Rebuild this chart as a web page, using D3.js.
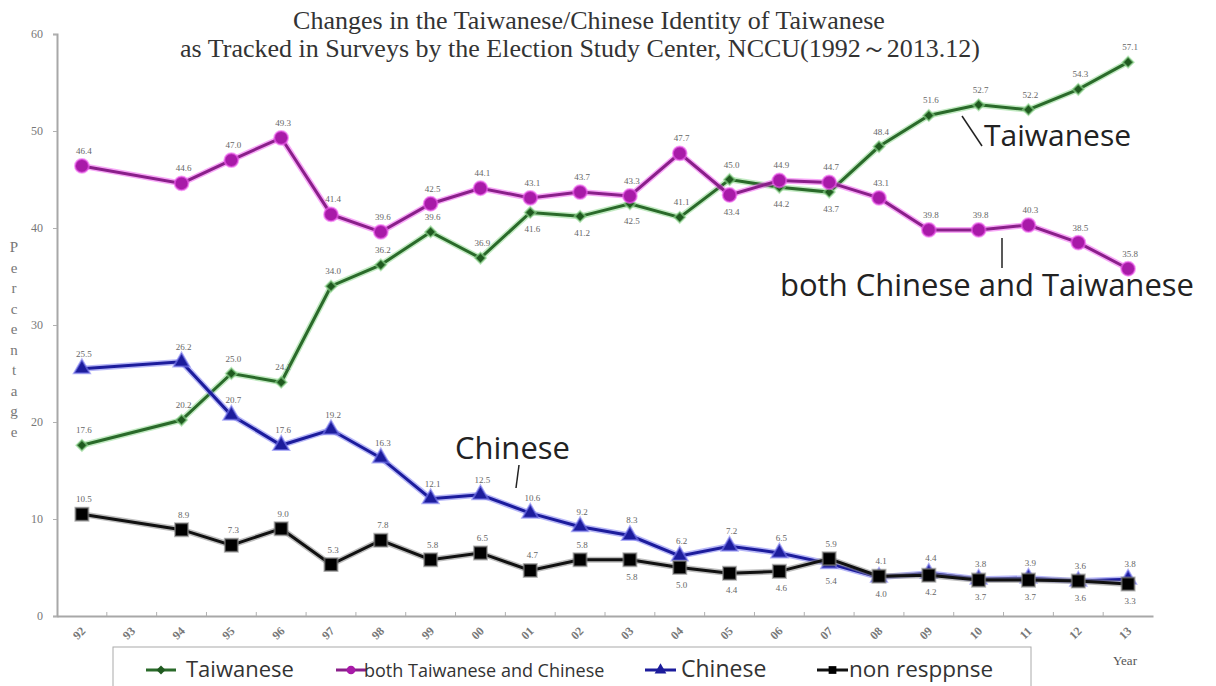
<!DOCTYPE html>
<html>
<head>
<meta charset="utf-8">
<script src="https://cdn.jsdelivr.net/npm/d3@7"></script>
<style>
	body { margin: 0; background: #fff; }
	svg { display: block; }
</style>
</head>
<body>
<svg id="chart" width="1216" height="686"></svg>
<script>

	// data (1993 had no survey)
	var years = ['92','93','94','95','96','97','98','99','00','01','02','03','04','05','06','07','08','09','10','11','12','13']
	var taiwanese = [17.6,null,20.2,25.0,24.1,34.0,36.2,39.6,36.9,41.6,41.2,42.5,41.1,45.0,44.2,43.7,48.4,51.6,52.7,52.2,54.3,57.1]
	var both      = [46.4,null,44.6,47.0,49.3,41.4,39.6,42.5,44.1,43.1,43.7,43.3,47.7,43.4,44.9,44.7,43.1,39.8,39.8,40.3,38.5,35.8]
	var chinese   = [25.5,null,26.2,20.7,17.6,19.2,16.3,12.1,12.5,10.6,9.2,8.3,6.2,7.2,6.5,5.4,4.0,4.4,3.8,3.9,3.6,3.8]
	var nonResp   = [10.5,null,8.9,7.3,9.0,5.3,7.8,5.8,6.5,4.7,5.8,5.8,5.0,4.4,4.6,5.9,4.1,4.2,3.7,3.7,3.6,3.3]
	var yTicks = [0,10,20,30,40,50,60]

	// which side of the point each value label sits (a = above, b = below), one char per year
	var twSide = 'aaaaaaaaabbbaabbaaaaaa'
	var btSide = 'aaaaaaaaaaaaabaaaaaaaa'
	var chSide = 'aaaaaaaaaaaaaaabbaaaaa'
	var nrSide = 'aaaaaaaaaaabbbbaabbbbb'

	var svg = d3.select('#chart')
	var margin = {left: 57, right: 1153, top: 34, bottom: 616}

	var x = d3.scaleBand().domain(years).range([margin.left, margin.right])
	var y = d3.scaleLinear().domain([0, 60]).range([margin.bottom, margin.top])
	var cx = function(i){ return x(years[i]) + x.bandwidth() / 2 }

	// title
	var title = svg.append('g')
		.style('font-family', '"Liberation Serif", "DejaVu Serif", serif')
		.style('font-size', '26px')
		.style('fill', '#333')
		.attr('text-anchor', 'middle')
	title.append('text').attr('x', 589).attr('y', 29)
		.text('Changes in the Taiwanese/Chinese Identity of Taiwanese')
	title.append('text').attr('x', 580).attr('y', 57)
		.text('as Tracked in Surveys by the Election Study Center, NCCU(1992\uFF5E2013.12)')

	// axes
	var yAxis = svg.append('g')
		.attr('transform', 'translate(' + margin.left + ',0)')
		.call(d3.axisLeft(y).tickValues(yTicks).tickSize(4).tickPadding(10))
	var xAxis = svg.append('g')
		.attr('transform', 'translate(0,' + margin.bottom + ')')
		.call(d3.axisBottom(x).tickSize(0).tickPadding(14))

	svg.selectAll('.domain').attr('stroke', '#a8a8a8').attr('stroke-width', 2)
	svg.selectAll('.tick line').attr('stroke', '#b0b0b0')
	yAxis.selectAll('text')
		.style('font-family', '"Liberation Serif", serif')
		.style('font-size', '12px')
		.style('fill', '#777')
	xAxis.selectAll('.tick text')
		.style('font-family', '"Liberation Serif", serif')
		.style('font-size', '12px')
		.style('font-weight', 'bold')
		.style('fill', '#777')
		.attr('text-anchor', 'middle')
		.attr('dy', 0)
		.attr('transform', 'translate(0,6) rotate(-45, 0, 14)')

	// tick marks between years
	svg.append('g').selectAll('line')
		.data(years.slice(1))
		.enter()
		.append('line')
		.attr('x1', function(d){ return x(d) })
		.attr('x2', function(d){ return x(d) })
		.attr('y1', margin.bottom)
		.attr('y2', margin.bottom - 4)
		.attr('stroke', '#b0b0b0')

	// y axis title, one letter per line
	svg.append('g').selectAll('text')
		.data('Percentage'.split(''))
		.enter()
		.append('text')
		.attr('x', 14)
		.attr('y', function(d, i){ return 252 + i * 20.5 })
		.attr('text-anchor', 'middle')
		.style('font-family', '"Liberation Serif", serif')
		.style('font-size', '15px')
		.style('fill', '#777')
		.text(function(d){ return d })

	var series = [
		{name: 'Taiwanese', values: taiwanese, side: twSide, line: '#2a6a2a', halo: '#8fd88f', marker: 'diamond', fill: '#1f5a1f'},
		{name: 'both', values: both, side: btSide, line: '#8a1f8a', halo: '#f060f0', marker: 'circle', fill: '#a81aa8'},
		{name: 'Chinese', values: chinese, side: chSide, line: '#1c1c9c', halo: '#7c7cf0', marker: 'triangle', fill: '#1c1c9c'},
		{name: 'non response', values: nonResp, side: nrSide, line: '#111', halo: '#888', marker: 'square', fill: '#000'}
	]

	var symbolTypes = {diamond: d3.symbolSquare, circle: d3.symbolCircle, triangle: d3.symbolTriangle, square: d3.symbolSquare}
	var symbolSizes = {diamond: 60, circle: 150, triangle: 110, square: 170}
	var symbolTurn = {diamond: 45, circle: 0, triangle: 0, square: 0}

	var labelLayer = []

	series.forEach(function(s){
		var pts = s.values.map(function(v, i){ return {v: v, i: i} }).filter(function(p){ return p.v != null })
		var g = svg.append('g')
		// the line joins across the missing year
		var pathLine = d3.line()
			.x(function(p){ return cx(p.i) })
			.y(function(p){ return y(p.v) })
		g.append('path').datum(pts)
			.attr('d', pathLine)
			.attr('fill', 'none')
			.attr('stroke', s.halo)
			.attr('stroke-opacity', 0.55)
			.attr('stroke-width', 6)
		g.append('path').datum(pts)
			.attr('d', pathLine)
			.attr('fill', 'none')
			.attr('stroke', s.line)
			.attr('stroke-width', 3)
		g.selectAll('path.m').data(pts).enter()
			.append('path')
			.attr('class', 'm')
			.attr('d', d3.symbol().type(symbolTypes[s.marker]).size(symbolSizes[s.marker]))
			.attr('transform', function(p){ return 'translate(' + cx(p.i) + ',' + y(p.v) + ') rotate(' + symbolTurn[s.marker] + ')' })
			.attr('fill', s.fill)
			.attr('stroke', s.halo)
			.attr('stroke-opacity', 0.6)
			.attr('stroke-width', 2)
		pts.forEach(function(p){ labelLayer.push({p: p, s: s}) })
	})

	// value labels on top of every line
	svg.append('g').selectAll('text')
		.data(labelLayer)
		.enter()
		.append('text')
		.attr('x', function(d){ return cx(d.p.i) + 2 })
		.attr('y', function(d){ return y(d.p.v) + (d.s.side[d.p.i] == 'b' ? 20 : -12) })
		.attr('text-anchor', 'middle')
		.style('font-family', '"Liberation Serif", serif')
		.style('font-size', '9px')
		.style('fill', '#666')
		.text(function(d){ return d.p.v.toFixed(1) })

	// hand-written annotations
	var ann = svg.append('g')
		.style('font-family', '"Open Sans", "Noto Sans", sans-serif')
		.style('fill', '#222')
	ann.append('text').attr('x', 984).attr('y', 146).style('font-size', '30px').text('Taiwanese')
	ann.append('line').attr('x1', 962).attr('y1', 116).attr('x2', 982).attr('y2', 146).attr('stroke', '#222').attr('stroke-width', 1.5)
	ann.append('text').attr('x', 780).attr('y', 296).style('font-size', '31px').text('both Chinese and Taiwanese')
	ann.append('line').attr('x1', 1002).attr('y1', 238).attr('x2', 1002).attr('y2', 268).attr('stroke', '#222').attr('stroke-width', 1.5)
	ann.append('text').attr('x', 455).attr('y', 459).style('font-size', '31px').text('Chinese')
	ann.append('line').attr('x1', 519).attr('y1', 465).attr('x2', 516).attr('y2', 488).attr('stroke', '#222').attr('stroke-width', 1.5)

	// legend
	var legend = svg.append('g')
	legend.append('rect')
		.attr('x', 113).attr('y', 647).attr('width', 918).attr('height', 50)
		.attr('fill', '#fff').attr('stroke', '#aaa')
	var legItems = [
		{s: series[0], label: 'Taiwanese', x0: 146, x1: 176, tx: 186, size: 22},
		{s: series[1], label: 'both Taiwanese and Chinese', x0: 336, x1: 366, tx: 364, size: 18},
		{s: series[2], label: 'Chinese', x0: 645, x1: 676, tx: 681, size: 23},
		{s: series[3], label: 'non resppnse', x0: 817, x1: 848, tx: 849, size: 22.5}
	]
	legItems.forEach(function(l){
		legend.append('line')
			.attr('x1', l.x0).attr('x2', l.x1).attr('y1', 670).attr('y2', 670)
			.attr('stroke', l.s.line).attr('stroke-width', 3)
		legend.append('path')
			.attr('d', d3.symbol().type(symbolTypes[l.s.marker]).size(l.s.marker == 'diamond' ? 40 : 60))
			.attr('transform', 'translate(' + ((l.x0 + l.x1) / 2) + ',670) rotate(' + symbolTurn[l.s.marker] + ')')
			.attr('fill', l.s.fill)
		legend.append('text')
			.attr('x', l.tx).attr('y', 677)
			.style('font-family', '"Open Sans", "Noto Sans", sans-serif')
			.style('font-size', l.size + 'px')
			.style('fill', '#333')
			.text(l.label)
	})

	svg.append('text')
		.attr('x', 1125).attr('y', 665)
		.attr('text-anchor', 'middle')
		.style('font-family', '"Liberation Serif", serif')
		.style('font-size', '13px')
		.style('fill', '#555')
		.text('Year')

</script>
</body>
</html>
